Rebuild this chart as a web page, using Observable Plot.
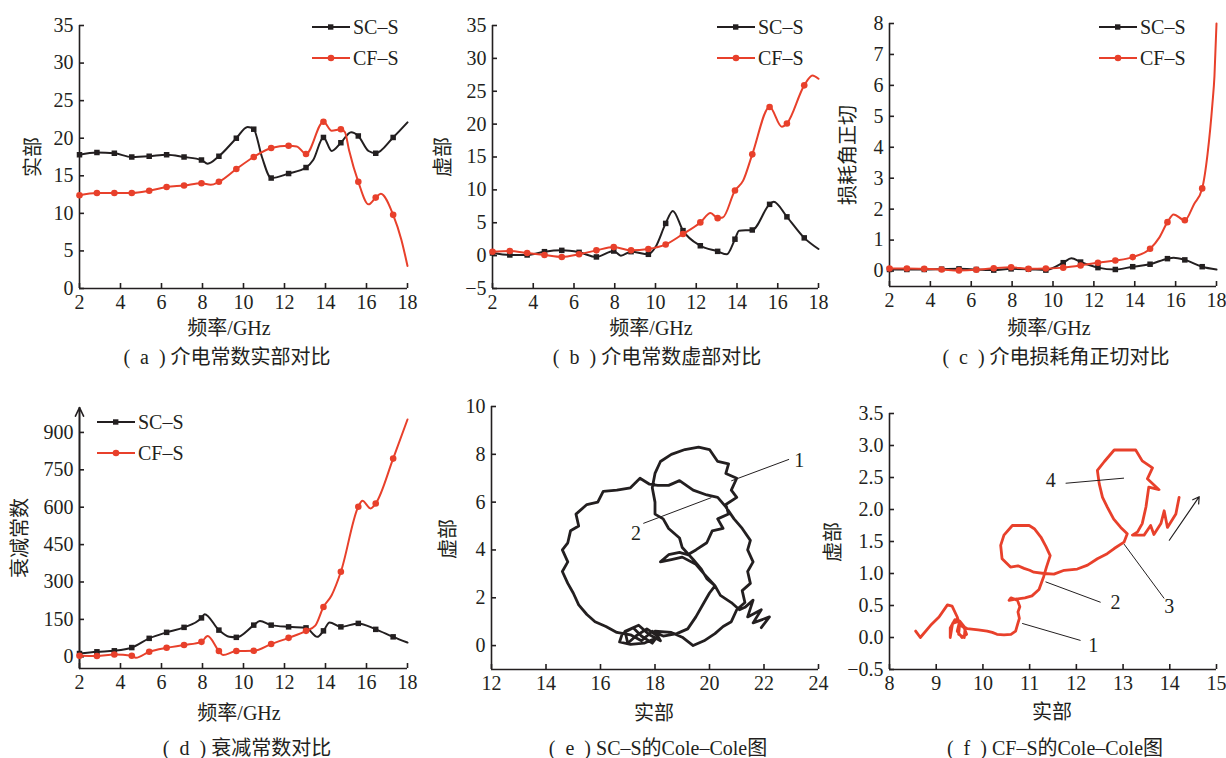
<!DOCTYPE html>
<html><head><meta charset="utf-8">
<script src="https://cdn.jsdelivr.net/npm/d3@7"></script>
<script src="https://cdn.jsdelivr.net/npm/@observablehq/plot@0.6"></script>
<style>
body{margin:0;background:#fff;}
#root{position:relative;width:1226px;height:758px;overflow:hidden;font-family:"Liberation Serif","Noto Sans CJK SC",serif;color:#231f20;}
.panel{position:absolute;}
.lbl{position:absolute;font-size:20px;white-space:nowrap;transform:translate(-50%,-50%);line-height:1;}
.ylbl{transform:translate(-50%,-50%) rotate(-90deg);}
#overlay{position:absolute;left:0;top:0;pointer-events:none;}
</style></head><body><div id="root"></div>
<script>
// ---------- data ----------
const markerFreq = [2.0,2.85,3.7,4.55,5.4,6.25,7.1,7.95,8.8,9.65,10.5,11.35,12.2,13.05,13.9,14.75,15.6,16.45,17.3];
const freqTicks = [2,4,6,8,10,12,14,16,18];

// (a) real part
const aSC_f = [2.0,2.85,3.7,4.55,5.4,6.25,7.1,7.95,8.25,8.8,9.65,10.2,10.5,10.9,11.35,12.2,13.05,13.4,13.9,14.3,14.75,15.25,15.6,16.1,16.45,17.3,18.0];
const aSC_v = [17.8,18.1,18.0,17.5,17.6,17.8,17.5,17.1,16.6,17.6,20.0,21.5,21.2,17.5,14.7,15.3,16.1,17.1,20.1,18.3,19.4,20.8,20.3,18.3,18.0,20.1,22.1];
const aCF_f = [2.0,2.85,3.7,4.55,5.4,6.25,7.1,7.95,8.4,8.8,9.65,10.5,11.35,12.2,12.6,13.05,13.9,14.3,14.75,14.95,15.15,15.6,16.1,16.45,16.7,17.3,17.7,18.0];
const aCF_v = [12.4,12.7,12.7,12.7,13.0,13.5,13.7,14.0,13.8,14.2,15.9,17.5,18.7,19.0,18.9,17.9,22.2,21.0,21.2,20.8,18.4,14.2,11.2,12.1,12.6,9.8,6.5,3.0];

// (b) imaginary part
const bSC_f = [2.0,2.85,3.7,4.55,5.4,6.25,7.1,7.95,8.3,8.8,9.65,10.0,10.5,10.85,11.35,12.2,13.05,13.5,13.9,14.1,14.75,15.6,15.8,16.45,17.3,18.0];
const bSC_v = [0.4,0.1,0.1,0.6,0.8,0.5,-0.2,0.7,0.0,0.6,0.2,1.3,4.9,6.8,3.8,1.5,0.65,0.2,2.5,3.8,3.9,7.8,8.2,5.9,2.7,1.0];
const bCF_f = [2.0,2.85,3.7,4.55,5.4,6.25,7.1,7.95,8.8,9.65,10.5,11.35,12.2,12.7,13.05,13.3,13.9,14.3,14.75,15.6,16.2,16.45,17.3,17.7,18.0];
const bCF_v = [0.6,0.7,0.4,0.1,-0.2,0.2,0.8,1.3,0.8,1.0,1.7,3.3,5.05,6.5,5.7,5.8,9.9,11.4,15.4,22.6,19.6,20.1,25.9,27.4,26.9];

// (c) loss tangent
const cSC_f = [2.0,2.85,3.7,4.55,5.4,6.25,7.1,7.95,8.8,9.65,10.5,10.9,11.35,12.2,13.05,13.9,14.75,15.6,15.9,16.45,17.3,18.0];
const cSC_v = [0.05,0.05,0.05,0.06,0.07,0.05,0.03,0.07,0.06,0.03,0.27,0.41,0.29,0.11,0.05,0.14,0.22,0.40,0.43,0.36,0.14,0.05];
const cCF_f = [2.0,2.85,3.7,4.55,5.4,6.25,7.1,7.95,8.8,9.65,10.5,11.35,12.2,13.05,13.9,14.75,15.2,15.6,15.9,16.45,16.9,17.3,17.56,17.8,17.9,18.0];
const cCF_v = [0.08,0.08,0.07,0.05,0.02,0.04,0.09,0.12,0.07,0.08,0.11,0.18,0.27,0.34,0.45,0.72,1.08,1.58,1.83,1.64,2.16,2.67,3.77,5.4,6.3,8.0];

// (d) attenuation constant
const dSC_f = [2.0,2.85,3.7,4.55,5.4,6.25,7.1,7.95,8.1,8.8,9.3,9.65,10.5,10.8,11.35,12.2,13.05,13.6,13.9,14.2,14.75,15.6,16.45,17.3,18.0];
const dSC_v = [13,20,24,37,74,98,118,156,171,107,80,78,127,144,127,120,116,80,104,138,120,134,110,80,57];
const dCF_f = [2.0,2.85,3.7,4.55,4.75,5.4,6.25,7.1,7.95,8.25,8.8,9.0,9.65,10.5,11.35,12.2,13.05,13.5,13.9,14.3,14.75,15.6,15.8,16.2,16.45,17.3,18.0];
const dCF_v = [4,3,9,4,-4,20,36,47,60,83,23,7,23,24,51,76,104,125,200,247,341,602,626,595,615,795,952];

// (e) SC-S Cole-Cole (real, imaginary)
const eRe = [18.1,17.6,17.1,16.7,16.8,17.2,17.5,17.9,18.1,17.7,17.3,17.0,16.9,17.4,17.8,18.2,18.0,18.6,19.0,19.4,
  19.8,20.2,20.5,20.8,21.0,21.3,21.2,21.5,21.4,21.6,21.4,21.5,21.2,20.9,20.6,20.3,19.9,19.4,18.9,18.5,18.1,17.8,17.45,17.1,16.6,16.1,15.9,15.5,15.1,15.2,14.9,14.8,14.6,14.8,14.6,14.8,15.0,15.2,15.5,15.8,16.2,16.6,17.1,
  17.5,17.9,18.3,18.8,19.2,19.5,19.8,20.0,20.2,
  19.8,19.5,19.0,18.6,18.2,18.5,18.9,19.2,19.5,
  19.9,20.1,20.5,20.3,20.7,20.6,21.0,20.8,21.0,20.6,20.7,20.3,20.0,19.6,19.1,18.6,18.2,18.0,17.9,
  18.0,18.0,18.3,18.5,18.9,19.0,19.4,19.7,19.9,20.2,20.4,20.8,21.1,21.3,21.6,21.4,21.9,21.6,22.2,21.9];
const eIm = [0.35,0.1,0.05,0.15,0.5,0.75,0.4,0.1,0.4,0.7,0.4,0.1,0.6,0.85,0.45,0.2,0.6,0.55,0.35,0.0,
  0.2,0.5,0.8,1.0,1.5,1.8,2.3,2.6,3.1,3.5,4.0,4.4,4.9,5.3,5.8,6.2,6.3,6.5,6.9,6.7,6.7,6.75,7.0,6.6,6.5,6.45,6.0,5.9,5.5,5.0,4.8,4.3,4.0,3.5,3.1,2.6,2.2,1.7,1.3,1.0,0.8,0.55,0.45,
  0.2,0.6,0.4,0.5,0.7,1.2,1.8,2.2,2.5,
  3.0,3.4,3.7,3.6,3.5,3.8,3.9,3.8,4.0,
  4.3,4.8,4.9,5.3,5.5,5.9,6.2,6.5,7.0,7.2,7.6,7.7,8.2,8.3,8.2,8.0,7.7,7.2,6.6,
  6.0,5.5,5.3,4.9,4.5,4.1,3.6,3.2,2.8,2.5,2.1,1.8,1.5,1.6,1.9,1.2,1.5,0.95,1.2,0.75];
const eLeaderX1 = [20.8, 17.57], eLeaderY1 = [6.89, 5.11], eLeaderX2 = [22.92, 20.07], eLeaderY2 = [7.79, 6.19];
const eLabel = ["1","2"], eLabelX = [23.29, 17.30], eLabelY = [7.75, 4.69];

// (f) CF-S Cole-Cole (real, imaginary)
const fRe = [8.56,8.66,8.88,9.06,9.24,9.34,9.45,9.5,9.6,9.65,9.55,9.45,9.5,9.4,9.3,9.3,9.35,9.5,9.62,9.6,9.48,9.5,9.66,9.9,10.09,10.2,10.3,10.45,10.6,10.7,10.74,10.78,10.75,10.79,10.74,10.6,10.56,10.7,10.9,11.05,11.2,11.3,11.36,11.44,11.35,11.24,11.1,10.99,10.63,10.45,10.38,10.41,10.59,10.75,10.88,11.0,11.09,11.31,11.52,11.74,12.02,12.24,12.45,12.66,12.81,13.02,13.09,12.95,12.8,12.66,12.56,12.49,12.45,12.6,12.81,13.27,13.41,13.63,13.52,13.77,13.55,13.49,13.41,13.31,13.2,13.45,13.59,13.66,13.81,13.88,13.95,14.13,14.2];
const fIm = [0.10,0.0,0.19,0.32,0.51,0.49,0.32,0.2,0.15,0.05,0.0,0.1,0.25,0.28,0.15,0.0,0.22,0.26,0.15,0.0,0.05,0.2,0.14,0.12,0.10,0.08,0.05,0.04,0.05,0.1,0.2,0.3,0.4,0.48,0.58,0.62,0.58,0.6,0.62,0.65,0.75,0.95,1.1,1.28,1.42,1.57,1.7,1.75,1.75,1.6,1.44,1.23,1.1,1.12,1.08,1.05,1.02,1.0,0.99,1.05,1.07,1.13,1.23,1.31,1.39,1.49,1.62,1.72,1.85,2.04,2.19,2.4,2.61,2.75,2.93,2.93,2.76,2.65,2.48,2.31,2.35,2.04,1.78,1.65,1.6,1.6,1.75,1.61,1.78,1.98,1.72,1.93,2.19];
const fLeaderX1 = [10.84, 11.34, 13.02, 11.77], fLeaderY1 = [0.22, 0.87, 1.46, 2.41];
const fLeaderX2 = [12.09, 12.52, 13.88, 13.02], fLeaderY2 = [-0.046, 0.55, 0.61, 2.49];
const fLabel = ["1","2","3","4"], fLabelX = [12.36, 12.84, 13.99, 11.45], fLabelY = [-0.12, 0.55, 0.48, 2.45];
const fArrowX = [13.99, 14.63], fArrowY = [1.52, 2.2];

const seriesNames = ["SC\u2013S", "CF\u2013S"];
const BLACK = "#231f20", RED = "#e8402b";

// ---------- helpers ----------
const rows = (fs, vs) => fs.map((f, i) => ({f, v: vs[i]}));
const pts = (xs, ys) => xs.map((x, i) => ({x, y: ys[i]}));
const root = document.getElementById("root");

function place(el, left, top) {
  el.classList.add("panel");
  el.style.left = left + "px";
  el.style.top = top + "px";
  root.appendChild(el);
}

function makePanel({left, top, width, height, ml, mr, mt, mb, xDomain, yDomain, xTicks, yTicks, yFormat, xFormat, marks}) {
  const p = Plot.plot({
    width, height, marginLeft: ml, marginRight: mr, marginTop: mt, marginBottom: mb,
    x: {domain: xDomain},
    y: {domain: yDomain},
    style: {fontFamily: "'Liberation Serif', serif", fontSize: "20px", color: BLACK, background: "transparent", overflow: "visible"},
    marks: [
      Plot.ruleX([xDomain[0]], {stroke: BLACK, strokeWidth: 1.6}),
      Plot.ruleY([yDomain[0]], {stroke: BLACK, strokeWidth: 1.6}),
      Plot.axisX({ticks: xTicks, tickSize: -5, tickPadding: 11, label: null, tickFormat: xFormat || (d => d), stroke: BLACK, strokeWidth: 1.6, fill: BLACK, fontSize: 20}),
      Plot.axisY({ticks: yTicks, tickSize: -5, tickPadding: 11, label: null, tickFormat: yFormat || (d => d < 0 ? "\u2212" + (-d) : d), stroke: BLACK, strokeWidth: 1.6, fill: BLACK, fontSize: 20}),
      ...marks
    ]
  });
  place(p, left, top);
  return p;
}

function freqMarks(sc, cf) {
  const isM = d => markerFreq.includes(d.f);
  return [
    Plot.line(sc, {x: "f", y: "v", stroke: BLACK, strokeWidth: 2, curve: "monotone-x"}),
    Plot.dot(sc, {filter: isM, x: "f", y: "v", symbol: "square", r: 3.1, fill: BLACK, stroke: "none"}),
    Plot.line(cf, {x: "f", y: "v", stroke: RED, strokeWidth: 2, curve: "monotone-x"}),
    Plot.dot(cf, {filter: isM, x: "f", y: "v", symbol: "circle", r: 3.3, fill: RED, stroke: "none"})
  ];
}

// ---------- panels ----------
makePanel({left: 0, top: 0, width: 409, height: 318, ml: 79, mr: 2, mt: 25, mb: 30,
  xDomain: [2, 18], yDomain: [0, 35], xTicks: freqTicks, yTicks: d3.range(0, 36, 5),
  marks: freqMarks(rows(aSC_f, aSC_v), rows(aCF_f, aCF_v))});

makePanel({left: 410, top: 0, width: 410, height: 318, ml: 82, mr: 2, mt: 25, mb: 30,
  xDomain: [2, 18], yDomain: [-5, 35], xTicks: freqTicks, yTicks: d3.range(-5, 36, 5),
  marks: freqMarks(rows(bSC_f, bSC_v), rows(bCF_f, bCF_v))});

makePanel({left: 820, top: 0, width: 406, height: 316, ml: 69, mr: 10, mt: 23, mb: 30,
  xDomain: [2, 18], yDomain: [-0.5, 8], xTicks: freqTicks, yTicks: d3.range(0, 9, 1),
  marks: freqMarks(rows(cSC_f, cSC_v), rows(cCF_f, cCF_v))});

makePanel({left: 0, top: 380, width: 409, height: 318, ml: 79, mr: 2, mt: 27, mb: 30,
  xDomain: [2, 18], yDomain: [-47, 1000], xTicks: freqTicks, yTicks: d3.range(0, 901, 150),
  marks: [
    Plot.arrow({length: 1}, {x1: () => 2, y1: () => -47, x2: () => 2, y2: () => 1000, stroke: BLACK, strokeWidth: 1.6, headLength: 9, headAngle: 50}),
    ...freqMarks(rows(dSC_f, dSC_v), rows(dCF_f, dCF_v))
  ]});

makePanel({left: 410, top: 380, width: 410, height: 319, ml: 81, mr: 2, mt: 26, mb: 30,
  xDomain: [12, 24], yDomain: [-1, 10], xTicks: d3.range(12, 25, 2), yTicks: d3.range(0, 11, 2),
  marks: [
    Plot.line(pts(eRe, eIm), {x: "x", y: "y", stroke: BLACK, strokeWidth: 2.8, curve: "linear", strokeLinejoin: "round"}),
    Plot.link(eLabel, {x1: (d, i) => eLeaderX1[i], y1: (d, i) => eLeaderY1[i], x2: (d, i) => eLeaderX2[i], y2: (d, i) => eLeaderY2[i], stroke: BLACK, strokeWidth: 1}),
    Plot.text(eLabel, {x: (d, i) => eLabelX[i], y: (d, i) => eLabelY[i], text: d => d, fontSize: 20, fill: BLACK})
  ]});

makePanel({left: 820, top: 380, width: 406, height: 319, ml: 69, mr: 10, mt: 33, mb: 30,
  xDomain: [8, 15], yDomain: [-0.5, 3.5], xTicks: d3.range(8, 16, 1), yTicks: d3.range(-0.5, 3.51, 0.5),
  yFormat: d => (d < 0 ? "\u2212" : "") + Math.abs(d).toFixed(1),
  marks: [
    Plot.line(pts(fRe, fIm), {x: "x", y: "y", stroke: RED, strokeWidth: 2.8, curve: "linear", strokeLinejoin: "round"}),
    Plot.link(fLabel, {x1: (d, i) => fLeaderX1[i], y1: (d, i) => fLeaderY1[i], x2: (d, i) => fLeaderX2[i], y2: (d, i) => fLeaderY2[i], stroke: BLACK, strokeWidth: 1}),
    Plot.text(fLabel, {x: (d, i) => fLabelX[i], y: (d, i) => fLabelY[i], text: d => d, fontSize: 20, fill: BLACK}),
    Plot.arrow([0], {x1: () => fArrowX[0], y1: () => fArrowY[0], x2: () => fArrowX[1], y2: () => fArrowY[1], stroke: BLACK, strokeWidth: 1.2, headLength: 9})
  ]});

// ---------- text labels ----------
function label(text, x, y, rotate, size) {
  const d = document.createElement("div");
  d.className = "lbl" + (rotate ? " ylbl" : "");
  d.textContent = text;
  d.style.left = x + "px";
  d.style.top = y + "px";
  if (size) d.style.fontSize = size + "px";
  root.appendChild(d);
}
const xLab = "频率/GHz";
label(xLab, 229, 328); label(xLab, 651, 328); label(xLab, 1049, 328); label(xLab, 239, 713);
label("实部", 654, 713); label("实部", 1052, 712);
label("实部", 33, 157, true); label("虚部", 443, 157, true); label("损耗角正切", 848, 155, true);
label("衰减常数", 20, 538, true); label("虚部", 448, 539, true); label("虚部", 833, 542, true);
const capTag = ["a", "b", "c", "d", "e", "f"];
const capText = ["介电常数实部对比", "介电常数虚部对比", "介电损耗角正切对比", "衰减常数对比", "SC\u2013S的Cole\u2013Cole图", "CF\u2013S的Cole\u2013Cole图"];
const capPos = [[227, 357], [657, 357], [1056, 357], [247, 748], [658, 748], [1055, 748]];
capText.forEach((c, i) => label("(\u2002" + capTag[i] + "\u2002)\u2005" + c, capPos[i][0], capPos[i][1], false, 20));

// ---------- legends ----------
const ov = d3.select(root).append("svg").attr("id", "overlay").attr("width", 1226).attr("height", 758);
function legend(x, y) {
  [[BLACK, "square", 0], [RED, "circle", 31]].forEach(([col, sym, dy], i) => {
    const yy = y + dy;
    ov.append("line").attr("x1", x).attr("x2", x + 38).attr("y1", yy).attr("y2", yy).attr("stroke", col).attr("stroke-width", 2);
    if (sym === "square") ov.append("rect").attr("x", x + 16).attr("y", yy - 2.7).attr("width", 5.4).attr("height", 5.4).attr("fill", col);
    else ov.append("circle").attr("cx", x + 19).attr("cy", yy).attr("r", 3.3).attr("fill", col);
    ov.append("text").attr("x", x + 41).attr("y", yy).attr("dy", "0.35em").attr("font-size", 20)
      .attr("font-family", "'Liberation Serif', serif").attr("fill", BLACK).text(seriesNames[i]);
  });
}
legend(312, 27); legend(717, 27); legend(1099, 27); legend(97, 422);
</script></body></html>
